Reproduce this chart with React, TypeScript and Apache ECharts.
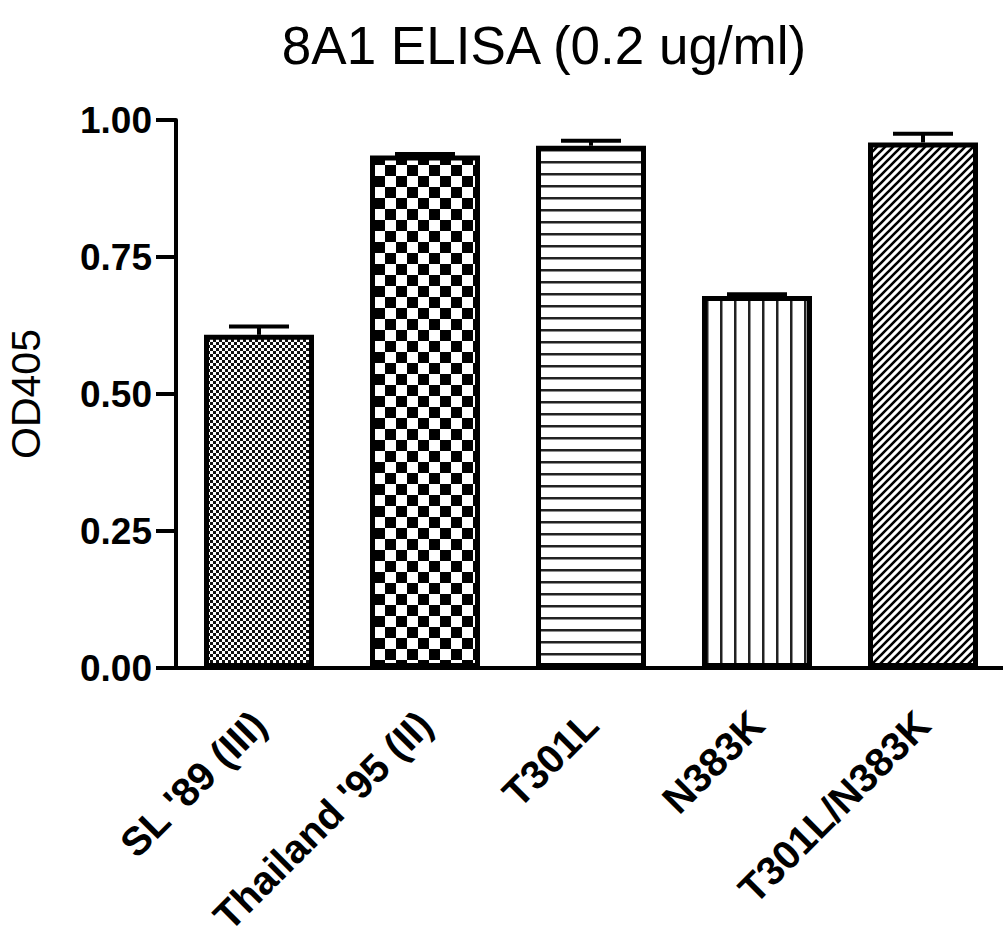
import React, { useEffect, useRef } from "react";
import * as echarts from "echarts";

const categories = ["SL '89 (III)", "Thailand '95 (II)", "T301L", "N383K", "T301L/N383K"];
const means = [0.608, 0.935, 0.953, 0.679, 0.959];
const sems = [0.015, 0.003, 0.009, 0.003, 0.016];
const yTicks = [0, 0.25, 0.5, 0.75, 1.0];
const patterns = ["fineChecker", "checker", "hlines", "vlines", "diag"];

const FONT = 'Arial, "Liberation Sans", sans-serif';

function makePattern(kind: string): HTMLCanvasElement {
  const c = document.createElement("canvas");
  let w = 6, h = 6;
  if (kind === "checker") { w = 22; h = 22; }
  if (kind === "hlines") { w = 4; h = 12; }
  if (kind === "vlines") { w = 14; h = 4; }
  if (kind === "diag") { w = 8; h = 8; }
  c.width = w; c.height = h;
  const ctx = c.getContext("2d")!;
  ctx.fillStyle = "#fff";
  ctx.fillRect(0, 0, w, h);
  ctx.fillStyle = "#000";
  ctx.strokeStyle = "#000";
  if (kind === "fineChecker") {
    ctx.fillStyle = "#111";
    ctx.fillRect(0, 0, 3, 3);
    ctx.fillRect(3, 3, 3, 3);
  } else if (kind === "checker") {
    ctx.fillRect(0, 0, 11, 11);
    ctx.fillRect(11, 11, 11, 11);
  } else if (kind === "hlines") {
    ctx.fillStyle = "#222";
    ctx.fillRect(0, 5, w, 2.5);
  } else if (kind === "vlines") {
    ctx.fillStyle = "#222";
    ctx.fillRect(6, 0, 2.5, h);
  } else if (kind === "diag") {
    ctx.lineWidth = 2.6;
    ctx.beginPath();
    ctx.moveTo(-2, 10); ctx.lineTo(10, -2);
    ctx.moveTo(-2, 2); ctx.lineTo(2, -2);
    ctx.moveTo(6, 10); ctx.lineTo(10, 6);
    ctx.stroke();
  }
  return c;
}

export default function App() {
  const ref = useRef<HTMLDivElement>(null);
  useEffect(() => {
    if (!ref.current) return;
    const chart = echarts.init(ref.current, null, { renderer: "svg" });
    const barData = means.map((v, i) => ({
      value: v,
      itemStyle: {
        color: { image: makePattern(patterns[i]), repeat: "repeat" } as any,
        borderColor: "#000",
        borderWidth: 5,
      },
    }));
    const errData = means.map((v, i) => [i, v, sems[i]]);
    chart.setOption({
      animation: false,
      backgroundColor: "#fff",
      title: {
        text: "8A1 ELISA (0.2 ug/ml)",
        left: 539,
        textAlign: "center",
        top: 14,
        textStyle: { fontFamily: FONT, fontSize: 53, fontWeight: "normal", color: "#000" },
      },
      grid: { left: 176, right: -3, top: 120, bottom: 270, containLabel: false, outerBoundsMode: "none" },
      xAxis: {
        type: "category",
        data: categories,
        axisLine: { lineStyle: { color: "#000", width: 4 } },
        axisTick: { alignWithLabel: true, length: 18, lineStyle: { color: "#000", width: 4 } },
        axisLabel: {
          rotate: 45,
          margin: 50,
          interval: 0,
          fontFamily: FONT,
          fontSize: 40,
          fontWeight: "bold",
          color: "#000",
        },
      },
      yAxis: {
        type: "value",
        min: 0,
        max: 1,
        interval: 0.25,
        name: "OD405",
        nameLocation: "middle",
        nameGap: 130,
        nameTextStyle: { fontFamily: FONT, fontSize: 41, color: "#000" },
        axisLine: { show: true, lineStyle: { color: "#000", width: 4 } },
        axisTick: { show: true, length: 20, lineStyle: { color: "#000", width: 4 } },
        splitLine: { show: false },
        axisLabel: {
          margin: 24,
          fontFamily: FONT,
          fontSize: 37,
          fontWeight: "bold",
          color: "#000",
          formatter: (v: number) => (yTicks.includes(v) ? v.toFixed(2) : ""),
        },
      },
      series: [
        {
          type: "bar",
          data: barData,
          barWidth: 110,
          z: 2,
        },
        {
          type: "custom",
          z: 3,
          data: errData,
          encode: { x: 0, y: 1 },
          renderItem: (params: any, api: any) => {
            const x = api.value(0);
            const v = api.value(1);
            const e = api.value(2);
            const p0 = api.coord([x, v]);
            const p1 = api.coord([x, v + e]);
            const hw = 30;
            return {
              type: "group",
              children: [
                { type: "line", shape: { x1: p0[0], y1: p0[1], x2: p1[0], y2: p1[1] }, style: { stroke: "#000", lineWidth: 4 } },
                { type: "line", shape: { x1: p1[0] - hw, y1: p1[1], x2: p1[0] + hw, y2: p1[1] }, style: { stroke: "#000", lineWidth: 4 } },
              ],
            };
          },
        },
      ],
    });
    return () => chart.dispose();
  }, []);
  return (
    <div
      ref={ref}
      style={{ position: "absolute", left: 0, top: 0, width: 1003, height: 938, background: "#fff" }}
    />
  );
}
